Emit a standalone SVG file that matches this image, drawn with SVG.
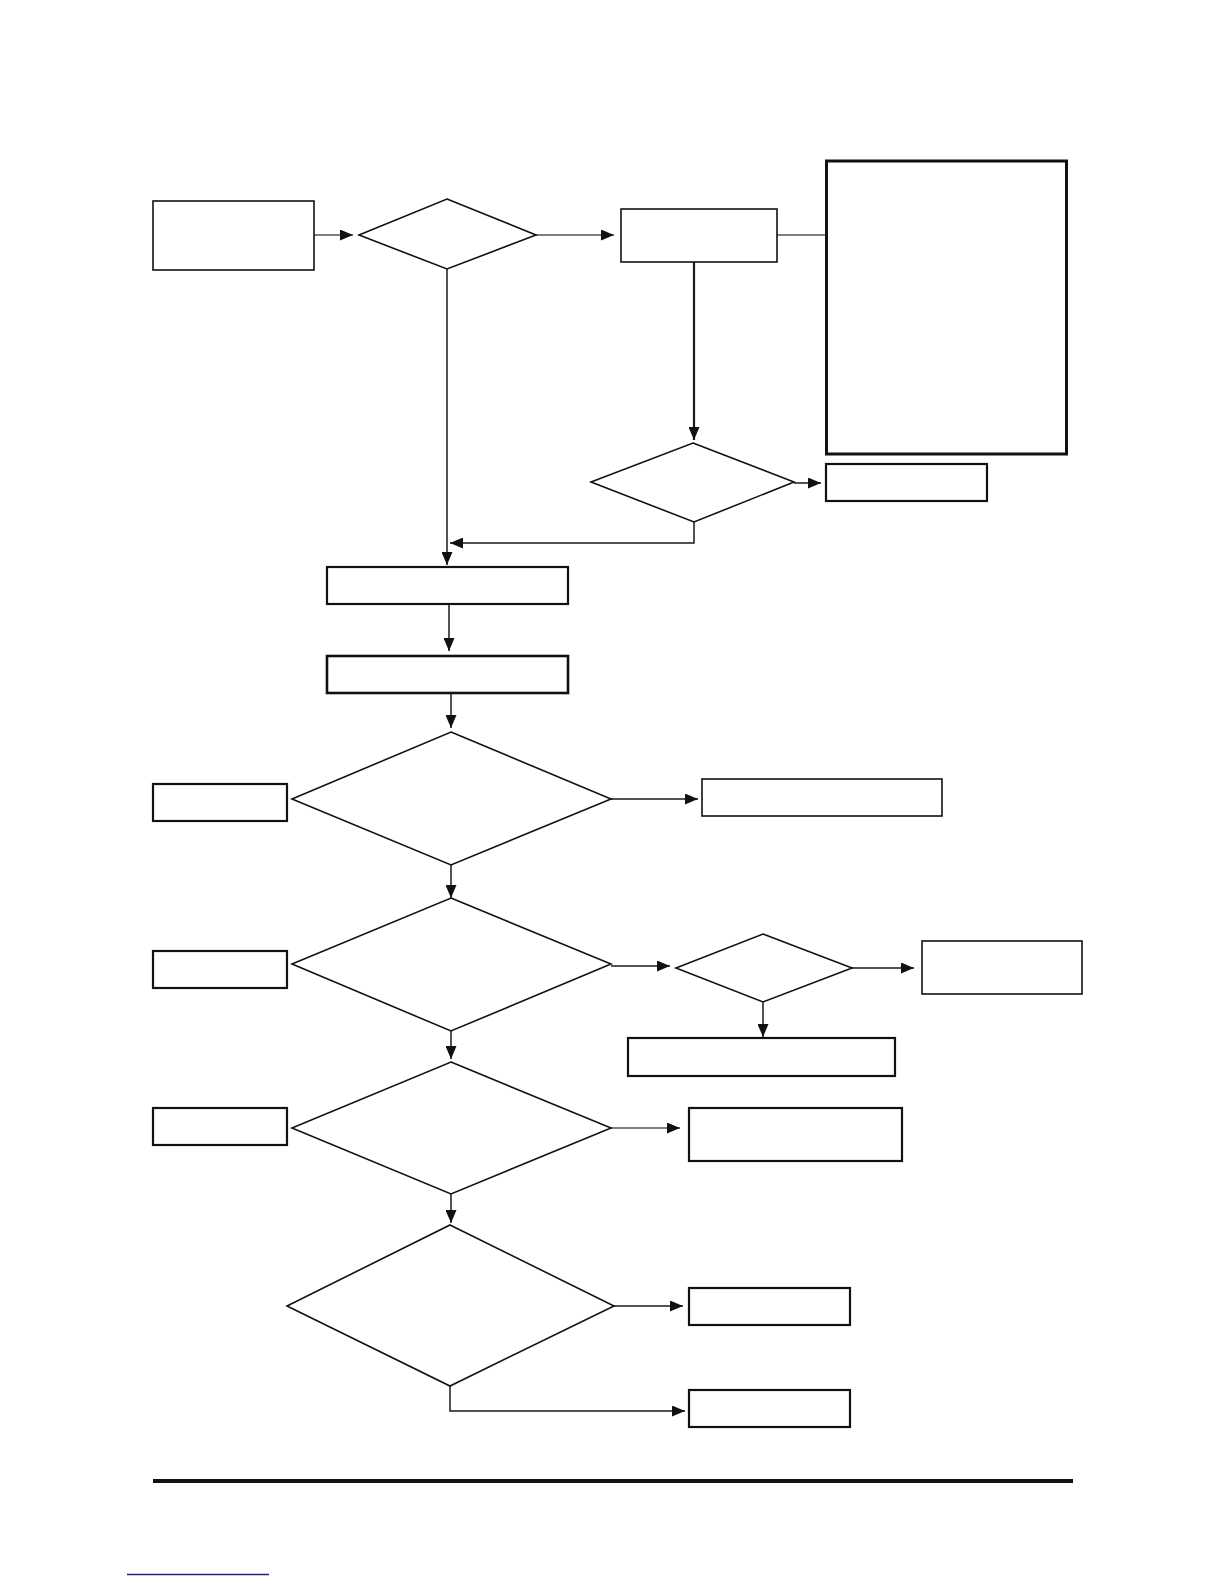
<svg xmlns="http://www.w3.org/2000/svg" width="1224" height="1584" viewBox="0 0 1224 1584">
<style>
.n{fill:#fff;stroke:#111;stroke-width:1.6}
.t{stroke-width:2.2}
.c{fill:none;stroke:#1a1a1a;stroke-width:1.5}
.g{stroke:#555}
</style>
<defs>
<marker id="ah" viewBox="0 0 13 11" markerWidth="13" markerHeight="11" markerUnits="userSpaceOnUse" refX="13" refY="5.5" orient="auto">
<path d="M0,0 L13,5.5 L0,11 z" fill="#111"/>
</marker>
</defs>
<rect width="1224" height="1584" fill="#fff"/>
<g id="connectors">
<path class="c g" d="M314,235 H353" marker-end="url(#ah)"/>
<path class="c g" d="M536,235 H614" marker-end="url(#ah)"/>
<path class="c g" d="M777,235 H826"/>
<path class="c" style="stroke-width:2.2" d="M694,262 V440" marker-end="url(#ah)"/>
<path class="c" d="M794,483 H821" marker-end="url(#ah)"/>
<path class="c" d="M694,522 V543 H450" marker-end="url(#ah)"/>
<path class="c" d="M447,269 V565" marker-end="url(#ah)"/>
<path class="c" d="M449,604 V651" marker-end="url(#ah)"/>
<path class="c" d="M451,693 V728" marker-end="url(#ah)"/>
<path class="c" d="M611,799 H698" marker-end="url(#ah)"/>
<path class="c" d="M451,865 V898" marker-end="url(#ah)"/>
<path class="c" d="M611,966 H670" marker-end="url(#ah)"/>
<path class="c" d="M852,968 H914" marker-end="url(#ah)"/>
<path class="c" d="M763,1002 V1037" marker-end="url(#ah)"/>
<path class="c" d="M451,1031 V1059" marker-end="url(#ah)"/>
<path class="c g" d="M611,1128 H680" marker-end="url(#ah)"/>
<path class="c" d="M451,1194 V1223" marker-end="url(#ah)"/>
<path class="c" d="M614,1306 H683" marker-end="url(#ah)"/>
<path class="c" d="M450,1386 V1411 H685" marker-end="url(#ah)"/>
</g>
<g id="start"><rect class="n" x="153" y="201" width="161" height="69"/></g>
<g id="decision1"><polygon class="n" points="447,199 536,235 447,269 359,235"/></g>
<g id="process1"><rect class="n" x="621" y="209" width="156" height="53"/></g>
<g id="note"><rect class="n" style="stroke-width:3" x="826.5" y="161" width="240" height="293"/></g>
<g id="decision2"><polygon class="n" points="693,443 794,482 694,522 591,482"/></g>
<g id="box-d2"><rect class="n t" x="826" y="464" width="161" height="37"/></g>
<g id="box3"><rect class="n t" x="327" y="567" width="241" height="37"/></g>
<g id="box4"><rect class="n" style="stroke-width:2.6" x="327" y="656" width="241" height="37"/></g>
<g id="decision3"><polygon class="n" points="451,732 611,799 451,865 292,799"/></g>
<g id="label3"><rect class="n t" x="153" y="784" width="134" height="37"/></g>
<g id="result3"><rect class="n" x="702" y="779" width="240" height="37"/></g>
<g id="decision4"><polygon class="n" points="451,898 611,964 451,1031 292,964"/></g>
<g id="label4"><rect class="n t" x="153" y="951" width="134" height="37"/></g>
<g id="decision5"><polygon class="n" points="763,934 852,968 763,1002 676,968"/></g>
<g id="result5a"><rect class="n" x="922" y="941" width="160" height="53"/></g>
<g id="result5b"><rect class="n t" x="628" y="1038" width="267" height="38"/></g>
<g id="decision6"><polygon class="n" points="451,1062 611,1128 451,1194 292,1128"/></g>
<g id="label6"><rect class="n t" x="153" y="1108" width="134" height="37"/></g>
<g id="result6"><rect class="n t" x="689" y="1108" width="213" height="53"/></g>
<g id="decision7"><polygon class="n" points="450,1225 614,1306 450,1386 287,1306"/></g>
<g id="result7a"><rect class="n t" x="689" y="1288" width="161" height="37"/></g>
<g id="result7b"><rect class="n t" x="689" y="1390" width="161" height="37"/></g>
<line x1="153" y1="1481" x2="1073" y2="1481" stroke="#111" stroke-width="4"/>
<line x1="127" y1="1574.5" x2="269" y2="1574.5" stroke="#23237e" stroke-width="1.5"/>
</svg>
